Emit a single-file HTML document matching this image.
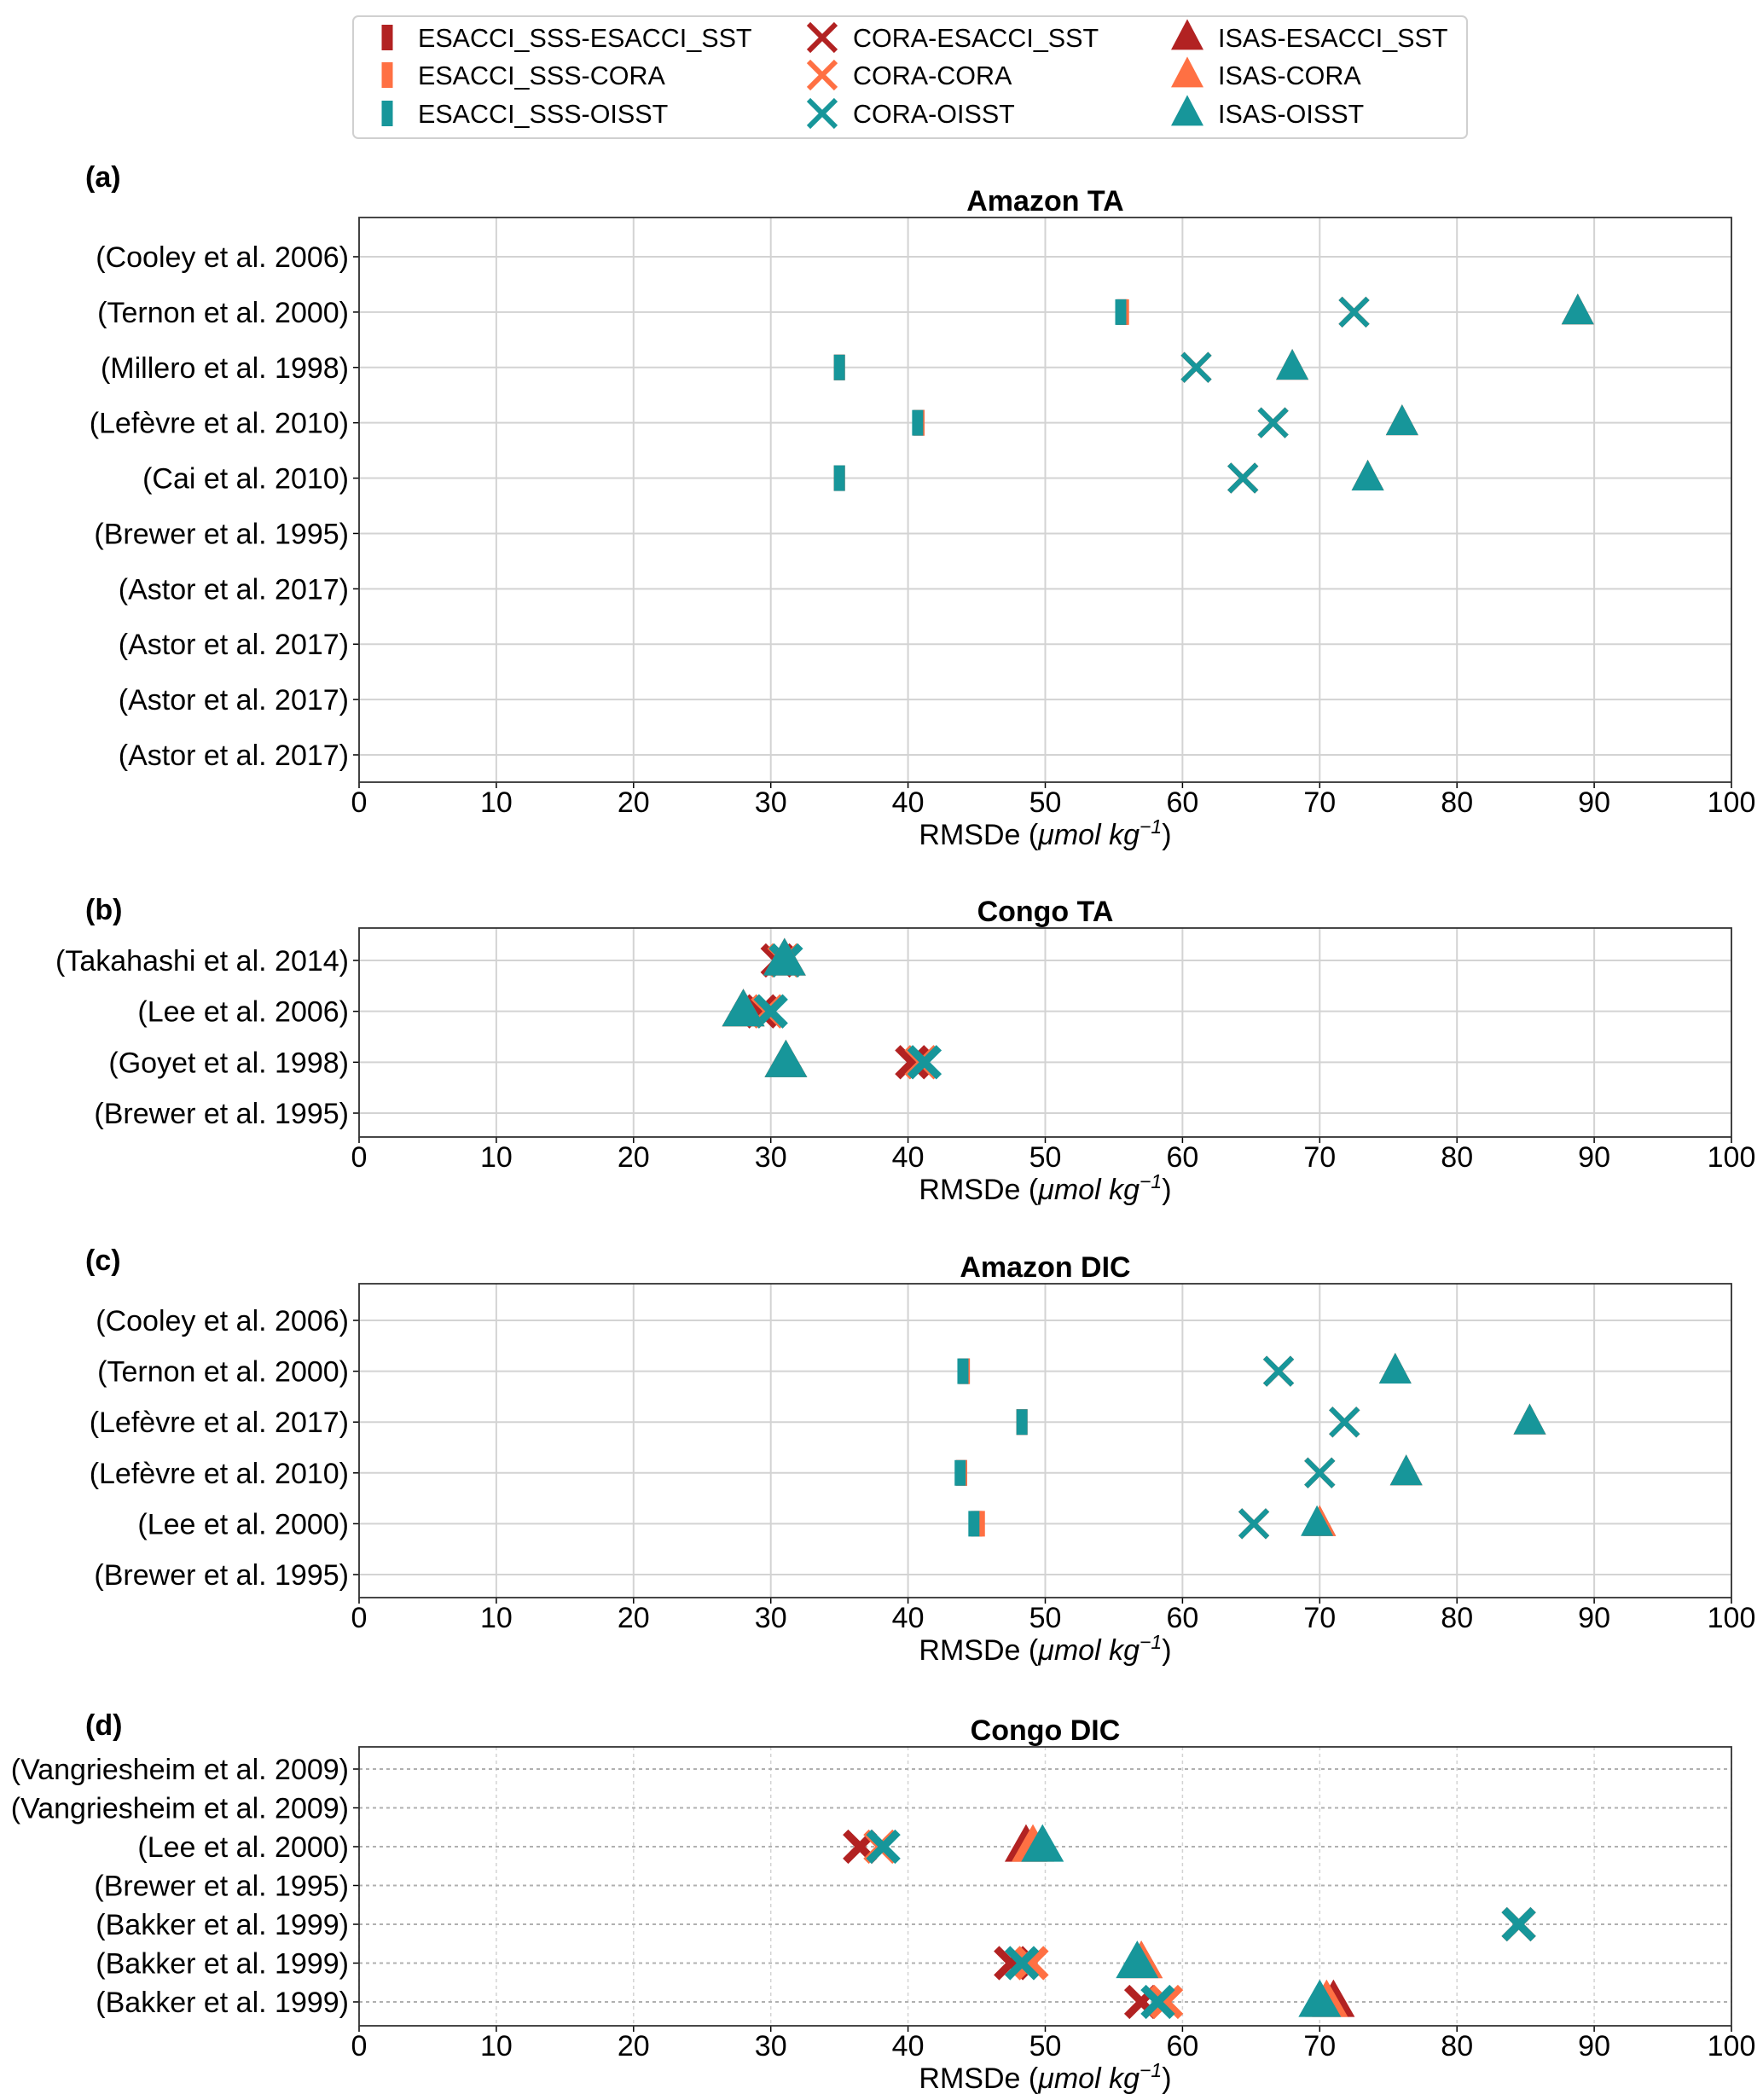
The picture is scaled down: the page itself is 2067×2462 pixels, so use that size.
<!DOCTYPE html>
<html><head><meta charset="utf-8"><style>
body{margin:0;background:#fff;}
svg{display:block;font-family:"Liberation Sans","DejaVu Sans",sans-serif;}
</style></head><body>
<svg id="fig" width="2067" height="2462" viewBox="0 0 2067 2462" xmlns="http://www.w3.org/2000/svg">
<g>
<rect x="414" y="19" width="1306" height="143" rx="6" fill="#fff" stroke="#d0d0d0" stroke-width="2"/>
<g id="leg"></g>
</g>
<g id="panels"></g>
</svg>
<script>
const COLORS=["#b22222","#ff7043","#17969a"];
const PRODUCTS=["ESACCI_SSS","CORA","ISAS"];
const SSTS=["ESACCI_SST","CORA","OISST"];
const xTicks=[0,10,20,30,40,50,60,70,80,90,100];

// Panel a: Amazon TA
const aRows=["(Cooley et al. 2006)","(Ternon et al. 2000)","(Millero et al. 1998)","(Lefèvre et al. 2010)","(Cai et al. 2010)","(Brewer et al. 1995)","(Astor et al. 2017)","(Astor et al. 2017)","(Astor et al. 2017)","(Astor et al. 2017)"];
const aEsacci=[[null,55.6,35,40.8,35,null,null,null,null,null],[null,55.7,35,40.8,35,null,null,null,null,null],[null,55.5,35,40.7,35,null,null,null,null,null]];
const aCora=[[null,72.5,61,66.6,64.4,null,null,null,null,null],[null,72.5,61,66.6,64.4,null,null,null,null,null],[null,72.5,61,66.6,64.4,null,null,null,null,null]];
const aIsas=[[null,88.8,68,76,73.5,null,null,null,null,null],[null,88.8,68,76,73.5,null,null,null,null,null],[null,88.8,68,76,73.5,null,null,null,null,null]];

// Panel b: Congo TA
const bRows=["(Takahashi et al. 2014)","(Lee et al. 2006)","(Goyet et al. 1998)","(Brewer et al. 1995)"];
const bEsacci=[[null,null,null,null],[null,null,null,null],[null,null,null,null]];
const bCora=[[30.5,29.3,40.3,null],[31,29.8,41,null],[31.1,30,41.2,null]];
const bIsas=[[31,28,31.1,null],[31,28,31.1,null],[31,28,31.1,null]];

// Panel c: Amazon DIC
const cRows=["(Cooley et al. 2006)","(Ternon et al. 2000)","(Lefèvre et al. 2017)","(Lefèvre et al. 2010)","(Lee et al. 2000)","(Brewer et al. 1995)"];
const cEsacci=[[null,44.1,48.3,43.9,45,null],[null,44.1,48.3,43.9,45.2,null],[null,44,48.3,43.8,44.8,null]];
const cCora=[[null,67,71.8,70,65.2,null],[null,67,71.8,70,65.2,null],[null,67,71.8,70,65.2,null]];
const cIsas=[[null,75.5,85.3,76.3,70,null],[null,75.5,85.3,76.3,70,null],[null,75.5,85.3,76.3,69.8,null]];

// Panel d: Congo DIC
const dRows=["(Vangriesheim et al. 2009)","(Vangriesheim et al. 2009)","(Lee et al. 2000)","(Brewer et al. 1995)","(Bakker et al. 1999)","(Bakker et al. 1999)","(Bakker et al. 1999)"];
const dEsacci=[[null,null,null,null,null,null,null],[null,null,null,null,null,null,null],[null,null,null,null,null,null,null]];
const dCora=[[null,null,36.5,null,84.5,47.5,57],[null,null,38,null,84.5,49,58.8],[null,null,38.2,null,84.5,48.3,58.2]];
const dIsas=[[null,null,48.6,null,null,57,71],[null,null,49.1,null,null,57,70.5],[null,null,49.8,null,null,56.7,70]];

const panels=[
 {id:"a",title:"Amazon TA",rows:aRows,es:aEsacci,co:aCora,is:aIsas,top:255,bot:917,r0:301,r1:885,lblY:207,dotted:false,big:false},
 {id:"b",title:"Congo TA",rows:bRows,es:bEsacci,co:bCora,is:bIsas,top:1088,bot:1333,r0:1126,r1:1305,lblY:1066,dotted:false,big:true},
 {id:"c",title:"Amazon DIC",rows:cRows,es:cEsacci,co:cCora,is:cIsas,top:1505,bot:1873,r0:1548,r1:1846,lblY:1477,dotted:false,big:false},
 {id:"d",title:"Congo DIC",rows:dRows,es:dEsacci,co:dCora,is:dIsas,top:2048,bot:2375,r0:2074,r1:2347,lblY:2022,dotted:true,big:true}
];
const X0=421,X1=2030;
const FS=34;
const NS="http://www.w3.org/2000/svg";
function el(tag,attrs,parent){const e=document.createElementNS(NS,tag);for(const k in attrs)e.setAttribute(k,attrs[k]);parent.appendChild(e);return e;}
function xScale(v){return X0+(v/100)*(X1-X0);}
function bar(g,x,y,c,big){const w=13,h=30;return el("rect",{x:x-w/2,y:y-h/2,width:w,height:h,fill:c},g);}
function cross(g,x,y,c,big){const s=big?17:16,sw=big?9:6;return el("path",{d:`M${x-s} ${y-s}L${x+s} ${y+s}M${x-s} ${y+s}L${x+s} ${y-s}`,stroke:c,"stroke-width":sw,fill:"none"},g);}
function tri(g,x,y,c,big){const w=big?25:19,h=big?44:36;return el("path",{d:`M${x} ${y-h*0.6}L${x+w} ${y+h*0.4}L${x-w} ${y+h*0.4}Z`,fill:c},g);}

// legend
const leg=document.getElementById("leg");
const legCols=[454,964,1392],legRows=[44,88,133],legFns=[bar,cross,tri];
for(let p=0;p<3;p++)for(let s=0;s<3;s++){
  const g=el("g",{},leg);
  
  
  legFns[p](g,legCols[p],legRows[s],COLORS[s],false);
  const t=el("text",{x:legCols[p]+36,y:legRows[s]+11,"font-size":30.5,fill:"#000"},g);
  t.textContent=PRODUCTS[p]+"-"+SSTS[s];
}

const root=document.getElementById("panels");
panels.forEach(P=>{
  const g=el("g",{},root);
  
  
  const n=P.rows.length;
  const yS=i=>P.r0+(n>1?i*(P.r1-P.r0)/(n-1):0);
  const dash=P.dotted?"4,4":"none";
  xTicks.forEach(v=>{
    const l=el("line",{x1:xScale(v),x2:xScale(v),y1:P.top,y2:P.bot,stroke:"#d3d3d3","stroke-width":P.dotted?1.5:2,"stroke-dasharray":dash},g);
    
    
  });
  P.rows.forEach((r,i)=>{
    const l=el("line",{x1:X0,x2:X1,y1:yS(i),y2:yS(i),stroke:P.dotted?"#b0b0b0":"#d3d3d3","stroke-width":2,"stroke-dasharray":dash},g);
    
    
    el("line",{x1:X0-7,x2:X0,y1:yS(i),y2:yS(i),stroke:"#000","stroke-width":1.5},g);
    const t=el("text",{x:X0-12,y:yS(i)+12,"font-size":FS,"text-anchor":"end",fill:"#000"},g);
    
    
    t.textContent=r;
  });
  xTicks.forEach(v=>{
    el("line",{x1:xScale(v),x2:xScale(v),y1:P.bot,y2:P.bot+7,stroke:"#000","stroke-width":1.5},g);
    const t=el("text",{x:xScale(v),y:P.bot+35,"font-size":FS,"text-anchor":"middle",fill:"#000"},g);
    
    
    t.textContent=v;
  });
  const fr=el("rect",{x:X0,y:P.top,width:X1-X0,height:P.bot-P.top,fill:"none",stroke:"#333","stroke-width":1.8},g);
  
  
  const lb=el("text",{x:100,y:P.lblY+12,"font-size":FS,"font-weight":"bold"},g);
  
  
  lb.textContent="("+P.id+")";
  const tt=el("text",{x:(X0+X1)/2,y:P.top-8,"font-size":FS,"font-weight":"bold","text-anchor":"middle"},g);
  
  
  tt.textContent=P.title;
  const xl=el("text",{x:(X0+X1)/2,y:P.bot+73,"font-size":FS,"text-anchor":"middle"},g);
  
  
  xl.innerHTML='RMSDe (<tspan font-style="italic">μmol kg</tspan><tspan font-style="italic" font-size="23" dy="-13">−1</tspan><tspan dy="13">)</tspan>';
  const sets=[[P.es,bar],[P.co,cross],[P.is,tri]];
  sets.forEach(([data,fn],pi)=>{
    data.forEach((series,si)=>{
      series.forEach((v,ri)=>{
        if(v===null)return;
        const m=fn(g,xScale(v),yS(ri),COLORS[si],P.big);
        
        
      });
    });
  });
});
</script>
</body></html>
